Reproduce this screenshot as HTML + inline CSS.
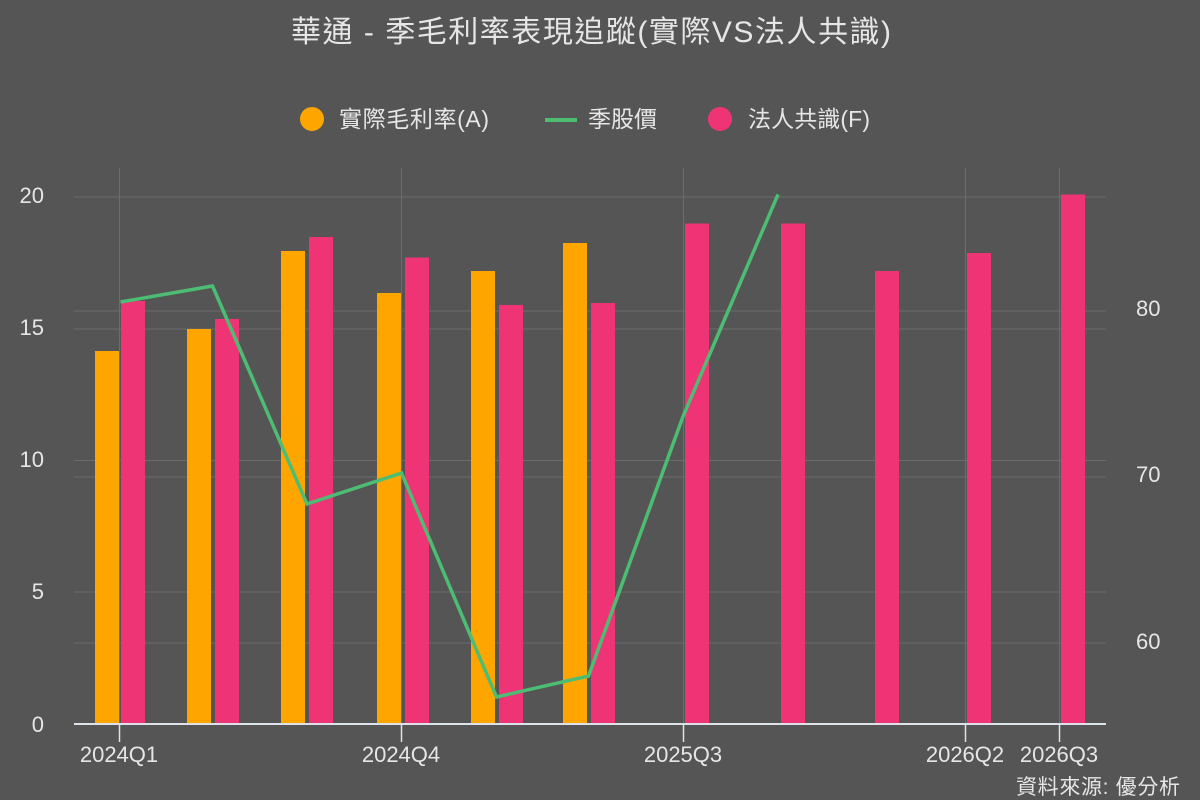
<!DOCTYPE html>
<html><head><meta charset="utf-8"><style>
html,body{margin:0;padding:0;background:#555555;}
svg{display:block;}
text{font-family:"Liberation Sans","Noto Sans CJK TC",sans-serif;fill:#e6e6e6;}
</style></head><body>
<svg width="1200" height="800" viewBox="0 0 1200 800" xmlns="http://www.w3.org/2000/svg">
<rect x="0" y="0" width="1200" height="800" fill="#555555"/>
<!-- title -->
<text x="291" y="42" font-size="30" textLength="600" lengthAdjust="spacing">華通 - 季毛利率表現追蹤(實際VS法人共識)</text>
<!-- legend -->
<circle cx="312" cy="119" r="12" fill="#ffa500"/>
<text x="339" y="127" font-size="23" textLength="150" lengthAdjust="spacing">實際毛利率(A)</text>
<line x1="545" y1="120" x2="577" y2="120" stroke="#4dbd74" stroke-width="4"/>
<text x="588" y="127" font-size="23">季股價</text>
<circle cx="720" cy="119" r="12" fill="#ef3475"/>
<text x="748" y="127" font-size="23" textLength="122" lengthAdjust="spacing">法人共識(F)</text>
<!-- horizontal grid lines -->
<g stroke="#6c6c6c" stroke-width="1">
<line x1="74" y1="197" x2="1106" y2="197"/>
<line x1="74" y1="329" x2="1106" y2="329"/>
<line x1="74" y1="460.5" x2="1106" y2="460.5"/>
<line x1="74" y1="592" x2="1106" y2="592"/>
<line x1="74" y1="311" x2="1106" y2="311"/>
<line x1="74" y1="477" x2="1106" y2="477"/>
<line x1="74" y1="643" x2="1106" y2="643"/>
</g>
<!-- vertical grid lines -->
<g stroke="#6c6c6c" stroke-width="1">
<line x1="119.5" y1="168" x2="119.5" y2="724"/>
<line x1="401.5" y1="168" x2="401.5" y2="724"/>
<line x1="683.5" y1="168" x2="683.5" y2="724"/>
<line x1="965.5" y1="168" x2="965.5" y2="724"/>
<line x1="1059.5" y1="168" x2="1059.5" y2="724"/>
</g>
<!-- orange bars -->
<g fill="#ffa500">
<rect x="95" y="351" width="24" height="373"/>
<rect x="187" y="329" width="24" height="395"/>
<rect x="281" y="251" width="24" height="473"/>
<rect x="377" y="293" width="24" height="431"/>
<rect x="471" y="271" width="24" height="453"/>
<rect x="563" y="243" width="24" height="481"/>
</g>
<!-- pink bars -->
<g fill="#ef3475">
<rect x="121" y="301" width="24" height="423"/>
<rect x="215" y="319" width="24" height="405"/>
<rect x="309" y="237" width="24" height="487"/>
<rect x="405" y="257.5" width="24" height="466.5"/>
<rect x="499" y="305" width="24" height="419"/>
<rect x="591" y="303" width="24" height="421"/>
<rect x="685" y="223.5" width="24" height="500.5"/>
<rect x="781" y="223.5" width="24" height="500.5"/>
<rect x="875" y="271" width="24" height="453"/>
<rect x="967" y="253" width="24" height="471"/>
<rect x="1061" y="194.5" width="24" height="529.5"/>
</g>
<!-- price line -->
<polyline fill="none" stroke="#4dbd74" stroke-width="3.5" stroke-linejoin="miter" points="120.5,302 212.5,286 307,504 401.5,473 496.5,697 588.5,676 683,416.5 778,194.5"/>
<!-- x axis -->
<line x1="74" y1="724" x2="1106" y2="724" stroke="#dde2ea" stroke-width="2"/>
<g stroke="#dde2ea" stroke-width="1.5">
<line x1="119.5" y1="724" x2="119.5" y2="742"/>
<line x1="401.5" y1="724" x2="401.5" y2="742"/>
<line x1="683.5" y1="724" x2="683.5" y2="742"/>
<line x1="965.5" y1="724" x2="965.5" y2="742"/>
<line x1="1059.5" y1="724" x2="1059.5" y2="742"/>
</g>
<!-- x labels -->
<g font-size="22" text-anchor="middle">
<text x="119" y="762">2024Q1</text>
<text x="401" y="762">2024Q4</text>
<text x="683" y="762">2025Q3</text>
<text x="965" y="762">2026Q2</text>
<text x="1059" y="762">2026Q3</text>
</g>
<!-- left y labels -->
<g font-size="22" text-anchor="end">
<text x="44" y="203">20</text>
<text x="44" y="335">15</text>
<text x="44" y="467">10</text>
<text x="44" y="599">5</text>
<text x="44" y="732">0</text>
</g>
<!-- right y labels -->
<g font-size="22" text-anchor="start">
<text x="1136" y="316">80</text>
<text x="1136" y="482">70</text>
<text x="1136" y="649">60</text>
</g>
<!-- source -->
<text x="1016" y="794" font-size="21" textLength="164" lengthAdjust="spacing">資料來源: 優分析</text>
</svg>
</body></html>
